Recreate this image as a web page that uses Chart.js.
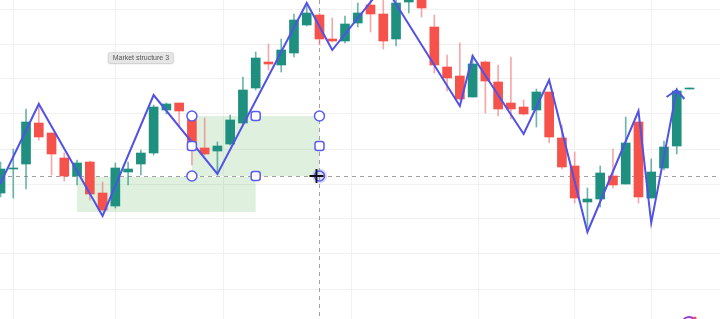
<!DOCTYPE html>
<html>
<head>
<meta charset="utf-8">
<script src="https://cdn.jsdelivr.net/npm/chart.js@4/dist/chart.umd.min.js"></script>
<style>
html,body{margin:0;padding:0;background:#ffffff;overflow:hidden;}
#wrap{width:720px;height:319px;position:relative;}
</style>
</head>
<body>
<div id="wrap"><canvas id="c" width="720" height="319"></canvas></div>
<script>
// ---- data (price units; higher = higher on chart) ----
const candleIdx = [0,1,2,3,4,5,6,7,8,9,10,11,12,13,14,15,16,17,18,19,20,21,22,23,24,25,26,27,28,29,30,31,32,33,34,35,36,37,38,39,40,41,42,43,44,45,46,47,48,49,50,51,52,53,54];
const opens  = [126,150,155,196,186,161,143,157,126,113,147,155,166,209,216,202,171,168,175,196,231,257,254,266,294,304,280,278,296,314,305,280,317,324,292,252,243,222,257,237,216,212,209,227,181,153,117,120,143,135,197,121,151,173,230];
const closes = [150,151,197,182,165,143,156,125,109,151,150,166,212,215,208,177,165,173,199,229,261,255,269,299,306,280,278,295,306,305,278,316,329,311,254,241,220,255,238,210,210,205,227,182,152,121,120,146,134,176,122,147,172,228,231];
const highs  = [157,170,210,216,186,166,159,158,137,156,157,169,214,216,216,204,201,177,204,242,267,275,280,305,313,306,301,303,316,322,321,324,334,329,304,264,276,264,258,254,262,219,230,227,194,167,131,153,170,202,197,160,178,231,231];
const lows   = [122,121,130,179,144,138,134,119,108,111,134,144,164,205,192,154,164,145,174,195,229,249,247,262,293,274,277,276,292,287,270,273,306,302,246,228,219,222,206,203,200,204,192,176,150,116,92,112,131,135,116,121,149,165,230];
// zigzag "market structure" swing points
const swingX = [-0.04,3,8,12,17,24,26,30.07,36,37,41,43,46,50,51,53,53.6];
const swingY = [135,215,103,224,145,316,269,334,213,263,185,239,87,208,96,229,220];
const stubX = [52.2,53];
const stubY = [222,229];
// grid tick positions
const xGridTicks = [5,13,22,33,42,48];
const yGridTicks = [30,65,100,135,170,205,240,275,310];
// zone boxes [x1,x2,yLow,yHigh]
const zone1 = [6,20,107,142];
const zone2 = [15,25,143,203];
const crossX = 25, crossY = 143;
const labelText = "Market structure 3";
const labelAt = [11, 261];

const GREEN = '#1f8f7f', RED = '#f4524a';
const isUp = opens.map((o,i)=>closes[i]>=o);
const bodyData = candleIdx.map((x,i)=>({x:x, y:[opens[i],closes[i]]}));
const wickData = candleIdx.map((x,i)=>({x:x, y:[lows[i],highs[i]]}));
const zig = swingX.map((x,i)=>({x:x,y:swingY[i]}));
const stub = stubX.map((x,i)=>({x:x,y:stubY[i]}));

const overlay = {
  id:'overlay',
  beforeDatasetsDraw(chart){
    const {ctx, scales:{x,y}} = chart;
    ctx.save();
    ctx.fillStyle = 'rgba(96,180,96,0.2)';
    [zone1, zone2].forEach(z=>{
      const x1=x.getPixelForValue(z[0]), x2=x.getPixelForValue(z[1]);
      const y1=y.getPixelForValue(z[3]), y2=y.getPixelForValue(z[2]);
      ctx.fillRect(x1,y1,x2-x1,y2-y1);
    });
    // crosshair dashed lines
    const cx=Math.round(x.getPixelForValue(crossX))+0.5, cy=Math.round(y.getPixelForValue(crossY))+0.5;
    ctx.strokeStyle='#a0a0a0'; ctx.lineWidth=1; ctx.setLineDash([4,4]);
    ctx.beginPath(); ctx.moveTo(0,cy); ctx.lineTo(720,cy); ctx.stroke();
    ctx.beginPath(); ctx.moveTo(cx,0); ctx.lineTo(cx,319); ctx.stroke();
    ctx.restore();
  },
  afterDatasetsDraw(chart){
    const {ctx, scales:{x,y}} = chart;
    ctx.save();
    const z=zone2;
    const xl=x.getPixelForValue(z[0]), xr=x.getPixelForValue(z[1]), xm=(xl+xr)/2;
    const yt=y.getPixelForValue(z[3]), yb=y.getPixelForValue(z[2]), ym=(yt+yb)/2;
    // cursor glow
    ctx.fillStyle='rgba(110,110,240,0.25)';
    ctx.beginPath(); ctx.arc(xr,yb,7.5,0,Math.PI*2); ctx.fill();
    ctx.lineWidth=1.5; ctx.strokeStyle='#5b5bf0'; ctx.fillStyle='#ffffff';
    const circ=(px,py)=>{ctx.beginPath(); ctx.arc(px,py,5,0,Math.PI*2); ctx.fill(); ctx.stroke();};
    const sq=(px,py)=>{ctx.beginPath(); ctx.roundRect(px-4.5,py-4.5,9,9,2.5); ctx.fill(); ctx.stroke();};
    circ(xl,yt); circ(xr,yt); circ(xl,yb);
    sq(xm,yt); sq(xl,ym); sq(xr,ym); sq(xm,yb);
    ctx.beginPath(); ctx.arc(xr,yb,5,0,Math.PI*2); ctx.stroke();
    // cursor cross
    ctx.strokeStyle='#111'; ctx.lineWidth=1.8;
    const ccx=xr-3, ccy=yb;
    ctx.beginPath(); ctx.moveTo(ccx-7,ccy); ctx.lineTo(ccx+7,ccy); ctx.moveTo(ccx,ccy-7); ctx.lineTo(ccx,ccy+7); ctx.stroke();
    // label
    const lx=x.getPixelForValue(labelAt[0]), ly=y.getPixelForValue(labelAt[1]);
    ctx.font='7px "Liberation Sans", Arial, sans-serif';
    const tw=ctx.measureText(labelText).width;
    ctx.shadowColor='rgba(0,0,0,0.15)'; ctx.shadowBlur=2; ctx.shadowOffsetY=0.5;
    ctx.fillStyle='#e6e6e6';
    ctx.beginPath(); ctx.roundRect(lx-tw/2-4.5,ly-5.5,tw+9,11,2); ctx.fill();
    ctx.shadowColor='transparent';
    ctx.strokeStyle='rgba(0,0,0,0.08)'; ctx.lineWidth=1; ctx.stroke();
    ctx.fillStyle='#555'; ctx.textAlign='center'; ctx.textBaseline='middle';
    ctx.fillText(labelText,lx,ly+0.5);
    // small logo bottom-right
    ctx.strokeStyle='#9b3fd0'; ctx.lineWidth=2;
    ctx.beginPath(); ctx.arc(689,324,7,Math.PI*1.15,Math.PI*1.75); ctx.stroke();
    ctx.fillStyle='#f0506e'; ctx.beginPath(); ctx.arc(695,318,1.6,0,Math.PI*2); ctx.fill();
    ctx.restore();
  }
};

new Chart(document.getElementById('c'), {
  type:'bar',
  data:{
    datasets:[
      {type:'line', data:zig, borderColor:'#5252e6', borderWidth:2, pointRadius:0, tension:0, order:0, clip:false},
      {type:'line', data:stub, borderColor:'#5252e6', borderWidth:2, pointRadius:0, tension:0, order:0},
      {data:bodyData, backgroundColor:isUp.map(u=>u?GREEN:RED), barThickness:9, grouped:false, order:1, borderWidth:0},
      {data:wickData, backgroundColor:isUp.map(u=>u?'rgba(31,143,127,0.65)':'rgba(240,110,110,0.6)'), barThickness:1, grouped:false, order:2, borderWidth:0}
    ]
  },
  options:{
    responsive:false, animation:false,
    layout:{padding:0},
    plugins:{legend:{display:false}, tooltip:{enabled:false}},
    events:[],
    scales:{
      x:{type:'linear', min:-0.04, max:56.39, offset:false,
         afterBuildTicks:s=>{s.ticks=xGridTicks.map(v=>({value:v}));},
         ticks:{display:false}, border:{display:false},
         grid:{color:'#f1f1f1', drawTicks:false, lineWidth:1}},
      y:{type:'linear', min:0, max:319,
         afterBuildTicks:s=>{s.ticks=yGridTicks.map(v=>({value:v}));},
         ticks:{display:false}, border:{display:false},
         grid:{color:'#f1f1f1', drawTicks:false, lineWidth:1}}
    }
  },
  plugins:[overlay]
});
</script>
</body>
</html>
